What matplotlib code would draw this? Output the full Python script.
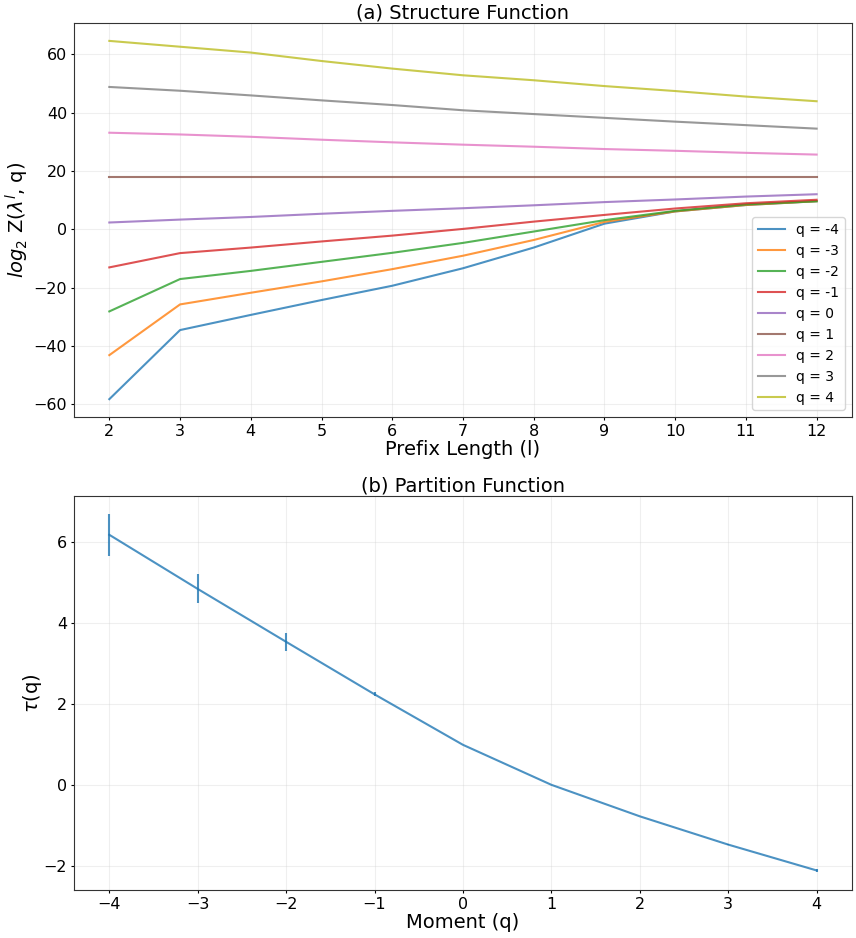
import matplotlib
matplotlib.use("Agg")
import matplotlib.pyplot as plt
import numpy as np

prefix_lengths = [2, 3, 4, 5, 6, 7, 8, 9, 10, 11, 12]
q_values = [-4, -3, -2, -1, 0, 1, 2, 3, 4]

z_q_m4 = [-58.3, -34.6, -29.4, -24.3, -19.4, -13.4, -6.3, 1.9, 6.1, 8.3, 9.6]
z_q_m3 = [-43.2, -25.8, -21.8, -17.9, -13.7, -9.1, -3.7, 2.5, 6.1, 8.3, 9.6]
z_q_m2 = [-28.2, -17.1, -14.3, -11.2, -8.1, -4.7, -0.8, 3.1, 6.3, 8.5, 9.6]
z_q_m1 = [-13.1, -8.2, -6.3, -4.2, -2.2, 0.1, 2.6, 4.9, 7.1, 8.9, 10.1]
z_q_0 = [2.3, 3.3, 4.2, 5.3, 6.3, 7.2, 8.2, 9.3, 10.2, 11.2, 12.0]
z_q_1 = [17.8, 17.8, 17.8, 17.8, 17.8, 17.8, 17.8, 17.8, 17.8, 17.8, 17.8]
z_q_2 = [33.1, 32.5, 31.7, 30.7, 29.8, 29.0, 28.3, 27.5, 26.9, 26.2, 25.6]
z_q_3 = [48.8, 47.5, 45.9, 44.2, 42.6, 40.8, 39.5, 38.2, 36.9, 35.7, 34.5]
z_q_4 = [64.6, 62.6, 60.6, 57.7, 55.1, 52.8, 51.1, 49.1, 47.4, 45.5, 43.9]
structure = [z_q_m4, z_q_m3, z_q_m2, z_q_m1, z_q_0, z_q_1, z_q_2, z_q_3, z_q_4]

tau = [6.19, 4.85, 3.54, 2.24, 0.99, 0.0, -0.78, -1.48, -2.12]
tau_err = [0.52, 0.36, 0.22, 0.05, 0.0, 0.0, 0.0, 0.02, 0.04]

fig, (ax1, ax2) = plt.subplots(2, 1, figsize=(8.56, 9.38), dpi=100)
fig.subplots_adjust(left=0.0864, right=0.9953, top=0.9755, bottom=0.0512, hspace=0.2)

colors = plt.rcParams['axes.prop_cycle'].by_key()['color']
for i, (q, vals) in enumerate(zip(q_values, structure)):
    ax1.plot(prefix_lengths, vals, color=colors[i], alpha=0.8, lw=1.5, label=f"q = {q}")
ax1.set_title("(a) Structure Function", fontsize=14, pad=1.5)
ax1.set_xlabel("Prefix Length (l)", fontsize=14, labelpad=1)
ax1.set_ylabel(r"$log_2$ Z($\lambda^l$, q)", fontsize=14, labelpad=2)
ax1.set_xticks(prefix_lengths)
ax1.legend(loc='lower right', fontsize=10)

ax2.errorbar(q_values, tau, yerr=tau_err, color=colors[0], alpha=0.8, lw=1.5, elinewidth=1.5)
ax2.set_title("(b) Partition Function", fontsize=14, pad=1.5)
ax2.set_xlabel("Moment (q)", fontsize=14, labelpad=1)
ax2.set_ylabel(r"$\tau$(q)", fontsize=14, labelpad=0)

for ax in (ax1, ax2):
    ax.tick_params(labelsize=11.5, length=2.5, pad=2.5)
    ax.grid(True, alpha=0.3, color='#cccccc')
    for s in ax.spines.values():
        s.set_color('#333333')

fig.savefig("out.png", dpi=100)
